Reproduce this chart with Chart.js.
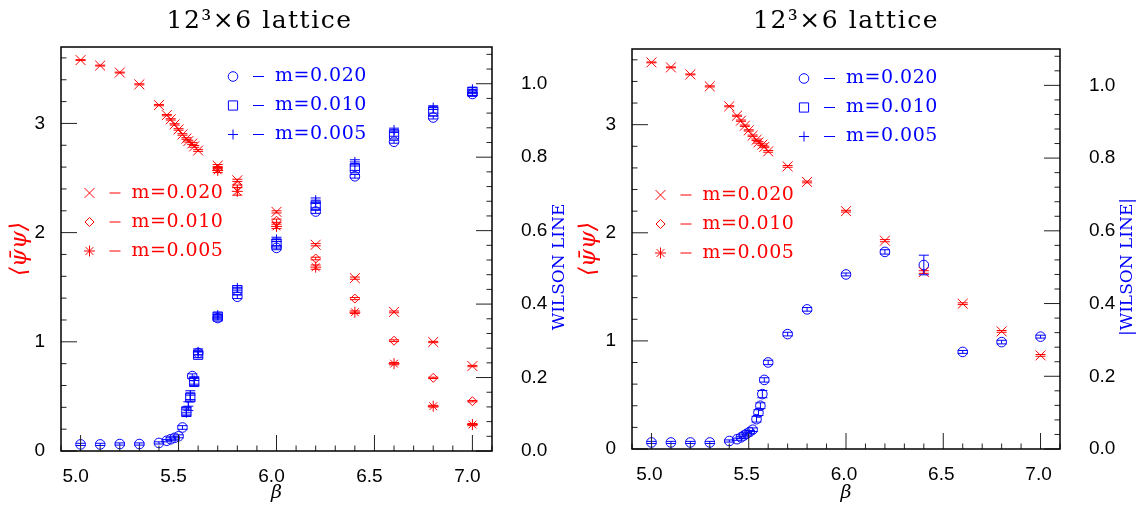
<!DOCTYPE html>
<html>
<head>
<meta charset="utf-8">
<script src="https://cdn.jsdelivr.net/npm/chart.js"></script>
<style>
  html, body { margin: 0; padding: 0; background: #fff; }
  .panel { position: absolute; top: 0; width: 569px; height: 515px; }
</style>
</head>
<body>
<div class="panel" style="left:0"><canvas id="leftChart"></canvas></div>
<div class="panel" style="left:569px"><canvas id="rightChart"></canvas></div>
<script>
'use strict';

var red = '#ff0000';
var blue = '#0000ff';

var massLabels = ['m=0.020', 'm=0.010', 'm=0.005'];
var redStyles = ['crossRot', 'rectRot', 'star'];
var blueStyles = ['circle', 'rect', 'cross'];
var redRadii = [7, 4.5, 5.5];
var blueRadii = [4.8, 6.5, 5];

// tick labels
var betaTicks = [5.0, 5.5, 6.0, 6.5, 7.0];
var pbpTicks = [0, 1, 2, 3];
var wilsonTicks = [0, 0.2, 0.4, 0.6, 0.8, 1.0];

// left panel : <psibar psi> (red)
var betaL = [5.0, 5.1, 5.2, 5.3, 5.4, 5.44, 5.46, 5.48, 5.5, 5.52, 5.54, 5.55, 5.57, 5.58, 5.6, 5.7, 5.8, 6.0, 6.2, 6.4, 6.6, 6.8, 7.0];
var pbpL020 = [3.58, 3.53, 3.466, 3.358, 3.168, 3.076, 3.037, 2.991, 2.945, 2.899, 2.862, 2.838, 2.816, 2.79, 2.752, 2.614, 2.479, 2.19, 1.889, 1.583, 1.274, 0.998, 0.778];
var pbpErrL020 = [0.004, 0.004, 0.004, 0.005, 0.006, 0.006, 0.006, 0.006, 0.007, 0.007, 0.007, 0.008, 0.008, 0.008, 0.008, 0.01, 0.01, 0.01, 0.01, 0.01, 0.008, 0.006, 0.006];
var betaHigh = [5.7, 5.8, 6.0, 6.2, 6.4, 6.6, 6.8, 7.0];
var pbpL010 = [2.584, 2.424, 2.109, 1.763, 1.396, 1.01, 0.67, 0.456];
var pbpErrL010 = [0.012, 0.012, 0.015, 0.012, 0.01, 0.008, 0.006, 0.006];
var pbpL005 = [2.57, 2.378, 2.057, 1.684, 1.271, 0.80, 0.41, 0.242];
var pbpErrL005 = [0.02, 0.035, 0.02, 0.02, 0.012, 0.01, 0.008, 0.01];

// left panel : Wilson line (blue)
var wlBetaL020 = [5.0, 5.1, 5.2, 5.3, 5.4, 5.44, 5.46, 5.48, 5.5, 5.52, 5.57, 5.6, 5.7, 5.8, 6.0, 6.2, 6.4, 6.6, 6.8, 7.0];
var wlL020 = [0.018, 0.018, 0.019, 0.019, 0.022, 0.028, 0.032, 0.036, 0.04, 0.064, 0.204, 0.267, 0.362, 0.42, 0.553, 0.652, 0.748, 0.842, 0.908, 0.972];
var wlErrL020 = [0.003, 0.003, 0.003, 0.003, 0.003, 0.003, 0.004, 0.004, 0.004, 0.005, 0.006, 0.005, 0.005, 0.005, 0.005, 0.005, 0.005, 0.004, 0.004, 0.004];
var wlBetaL010 = [5.54, 5.56, 5.58, 5.6, 5.7, 5.8, 6.0, 6.2, 6.4, 6.6, 6.8, 7.0];
var wlL010 = [0.108, 0.146, 0.188, 0.262, 0.366, 0.438, 0.565, 0.668, 0.77, 0.862, 0.925, 0.978];
var wlErrL010 = [0.01, 0.01, 0.01, 0.008, 0.006, 0.006, 0.006, 0.006, 0.006, 0.005, 0.005, 0.005];
var wlBetaL005 = [5.54, 5.55, 5.56, 5.58, 5.6, 5.7, 5.8, 6.0, 6.2, 6.4, 6.6, 6.8, 7.0];
var wlL005 = [0.104, 0.122, 0.152, 0.192, 0.27, 0.37, 0.444, 0.576, 0.683, 0.787, 0.874, 0.935, 0.985];
var wlErrL005 = [0.01, 0.012, 0.012, 0.01, 0.008, 0.006, 0.006, 0.006, 0.006, 0.006, 0.005, 0.005, 0.005];

// right panel
var betaR = [5.0, 5.1, 5.2, 5.3, 5.4, 5.44, 5.46, 5.48, 5.5, 5.52, 5.54, 5.55, 5.57, 5.58, 5.6, 5.7, 5.8, 6.0, 6.2, 6.4, 6.6, 6.8, 7.0];
var pbpR = [3.576, 3.53, 3.465, 3.354, 3.17, 3.083, 3.037, 2.99, 2.947, 2.898, 2.86, 2.836, 2.815, 2.794, 2.753, 2.614, 2.47, 2.2, 1.927, 1.637, 1.344, 1.088, 0.866];
var pbpErrR = [0.004, 0.004, 0.004, 0.005, 0.005, 0.005, 0.006, 0.006, 0.006, 0.006, 0.007, 0.007, 0.007, 0.007, 0.008, 0.008, 0.008, 0.008, 0.01, 0.012, 0.008, 0.008, 0.008];
var wlBetaR = [5.0, 5.1, 5.2, 5.3, 5.4, 5.44, 5.46, 5.475, 5.49, 5.505, 5.52, 5.54, 5.55, 5.56, 5.57, 5.58, 5.6, 5.7, 5.8, 6.0, 6.2, 6.4, 6.6, 6.8, 7.0];
var wlR = [0.018, 0.018, 0.018, 0.018, 0.022, 0.027, 0.032, 0.037, 0.042, 0.047, 0.053, 0.082, 0.1, 0.119, 0.151, 0.19, 0.238, 0.316, 0.384, 0.48, 0.542, 0.506, 0.267, 0.294, 0.309];
var wlErrR = [0.003, 0.003, 0.003, 0.003, 0.003, 0.003, 0.003, 0.004, 0.004, 0.004, 0.005, 0.008, 0.008, 0.008, 0.01, 0.006, 0.006, 0.005, 0.005, 0.004, 0.006, 0.027, 0.004, 0.005, 0.004];

var tickFont = { family: 'Liberation Sans', size: 19 };

function pts(xs, ys) {
    return xs.map(function (x, i) { return { x: x, y: ys[i] }; });
}

function series(label, xs, ys, errs, color, style, radius, axis) {
    return {
        label: label,
        data: pts(xs, ys),
        err: errs,
        borderColor: color,
        backgroundColor: 'rgba(0,0,0,0)',
        pointStyle: style,
        pointRadius: radius,
        pointBorderWidth: 1,
        showLine: false,
        yAxisID: axis
    };
}

function tickRun(scale, minor, major, draw) {
    var k0 = Math.ceil(scale.min / minor - 1e-6);
    var k1 = Math.floor(scale.max / minor + 1e-6);
    for (var k = k0; k <= k1; k++) {
        var v = k * minor;
        var isMajor = Math.abs(v / major - Math.round(v / major)) < 1e-6;
        draw(scale.getPixelForValue(v), isMajor ? 16 : 5.5);
    }
}

// frame with inward major / minor ticks
var frameTicks = {
    id: 'frameTicks',
    afterDraw: function (chart) {
        var ctx = chart.ctx, a = chart.chartArea, s = chart.scales;
        ctx.save();
        ctx.strokeStyle = '#222';
        ctx.lineWidth = 1;
        ctx.beginPath();
        tickRun(s.x, 0.1, 0.5, function (p, len) { ctx.moveTo(p, a.bottom); ctx.lineTo(p, a.bottom - len); });
        tickRun(s.yL, 0.2, 1, function (p, len) { ctx.moveTo(a.left, p); ctx.lineTo(a.left + len, p); });
        tickRun(s.yR, 0.04, 0.2, function (p, len) { ctx.moveTo(a.right, p); ctx.lineTo(a.right - len, p); });
        ctx.stroke();
        ctx.strokeStyle = '#000';
        ctx.lineWidth = 1.5;
        ctx.strokeRect(a.left, a.top, a.right - a.left, a.bottom - a.top);
        ctx.restore();
    }
};

var errorBars = {
    id: 'errorBars',
    afterDatasetsDraw: function (chart) {
        var ctx = chart.ctx;
        ctx.save();
        ctx.lineWidth = 1;
        chart.data.datasets.forEach(function (ds, i) {
            if (!ds.err) return;
            var meta = chart.getDatasetMeta(i);
            var ys = chart.scales[ds.yAxisID];
            ctx.strokeStyle = ds.borderColor;
            ctx.beginPath();
            meta.data.forEach(function (pt, j) {
                var v = ds.data[j].y, e = ds.err[j];
                var top = ys.getPixelForValue(v + e), bot = ys.getPixelForValue(v - e);
                ctx.moveTo(pt.x, top); ctx.lineTo(pt.x, bot);
                ctx.moveTo(pt.x - 5, top); ctx.lineTo(pt.x + 5, top);
                ctx.moveTo(pt.x - 5, bot); ctx.lineTo(pt.x + 5, bot);
            });
            ctx.stroke();
        });
        ctx.restore();
    }
};

function legendBlock(ctx, x, y, color, styles, radii) {
    ctx.strokeStyle = color;
    ctx.lineWidth = 1;
    massLabels.forEach(function (txt, i) {
        var yy = y + i * 29;
        ctx.fillStyle = 'rgba(0,0,0,0)';
        Chart.helpers.drawPoint(ctx, { pointStyle: styles[i], radius: radii[i], borderWidth: 1, rotation: 0 }, x, yy);
        ctx.beginPath();
        ctx.moveTo(x + 20, yy); ctx.lineTo(x + 31, yy);
        ctx.stroke();
        ctx.fillStyle = color;
        ctx.fillText(txt, x + 42, yy);
    });
}

// title, right axis title and the two mass legends
var panelText = {
    id: 'panelText',
    afterDraw: function (chart, args, opts) {
        var ctx = chart.ctx, a = chart.chartArea;
        ctx.save();
        ctx.fillStyle = '#000';
        ctx.font = '25px "DejaVu Serif"';
        ctx.letterSpacing = '1.5px';
        ctx.textAlign = 'center';
        ctx.textBaseline = 'alphabetic';
        ctx.fillText(opts.title, (a.left + a.right) / 2 + opts.titleShift, 28);

        ctx.save();
        ctx.letterSpacing = '0px';
        ctx.translate(a.right + 68, (a.top + a.bottom) / 2 + 18);
        ctx.rotate(-Math.PI / 2);
        ctx.fillStyle = blue;
        ctx.font = '17px "DejaVu Serif"';
        ctx.textBaseline = 'middle';
        ctx.fillText(opts.rightTitle, 0, 0);
        ctx.restore();

        ctx.font = '19px "DejaVu Serif"';
        ctx.letterSpacing = '0.5px';
        ctx.textAlign = 'left';
        ctx.textBaseline = 'middle';
        legendBlock(ctx, a.left + 172, a.top + 29.5, blue, blueStyles, blueRadii);
        legendBlock(ctx, a.left + 28.5, a.top + 146, red, redStyles, redRadii);
        ctx.restore();
    }
};

function tickSetter(values) {
    return function (scale) {
        scale.ticks = values.map(function (v) { return { value: v }; });
    };
}

function makePanel(id, datasets, box, panel) {
    return new Chart(document.getElementById(id), {
        type: 'scatter',
        data: { datasets: datasets },
        plugins: [errorBars, frameTicks, panelText],
        options: {
            responsive: true,
            maintainAspectRatio: false,
            animation: false,
            events: [],
            layout: { padding: { top: box.top, left: 0, right: 0, bottom: 0 } },
            plugins: {
                legend: { display: false },
                tooltip: { enabled: false },
                panelText: panel
            },
            scales: {
                x: {
                    type: 'linear',
                    position: 'bottom',
                    min: 4.9,
                    max: 7.1,
                    grid: { display: false },
                    border: { display: false },
                    afterBuildTicks: tickSetter(betaTicks),
                    afterFit: function (scale) { scale.height = box.bottom; },
                    ticks: {
                        font: tickFont, color: '#000', padding: 6, labelOffset: box.labelShift,
                        maxRotation: 0, autoSkip: false,
                        callback: function (v) { return Number(v).toFixed(1); }
                    },
                    title: {
                        display: true, text: 'β', color: '#000',
                        font: { family: 'DejaVu Serif', size: 19, style: 'italic' },
                        padding: { top: 0, bottom: 11 }
                    }
                },
                yL: {
                    type: 'linear',
                    position: 'left',
                    min: 0,
                    max: 3.7,
                    grid: { display: false },
                    border: { display: false },
                    afterBuildTicks: tickSetter(pbpTicks),
                    afterFit: function (scale) { scale.width = box.left; },
                    ticks: {
                        font: tickFont, color: '#000', padding: 8, autoSkip: false,
                        callback: function (v) { return String(v); }
                    },
                    title: {
                        display: true, text: '\u27E8\u03C8\u0304\u03C8\u27E9', color: red,
                        font: { family: 'DejaVu Serif', size: 23, style: 'italic' },
                        padding: { top: 6, bottom: 0 }
                    }
                },
                yR: {
                    type: 'linear',
                    position: 'right',
                    min: 0,
                    max: 1.1,
                    grid: { display: false },
                    border: { display: false },
                    afterBuildTicks: tickSetter(wilsonTicks),
                    afterFit: function (scale) { scale.width = box.right; },
                    ticks: {
                        font: tickFont, color: '#000', padding: 21, autoSkip: false,
                        callback: function (v) { return Number(v).toFixed(1); }
                    }
                }
            }
        }
    });
}

makePanel('leftChart', [
    series('pbp m=0.020', betaL, pbpL020, pbpErrL020, red, 'crossRot', 7, 'yL'),
    series('pbp m=0.010', betaHigh, pbpL010, pbpErrL010, red, 'rectRot', 4.5, 'yL'),
    series('pbp m=0.005', betaHigh, pbpL005, pbpErrL005, red, 'star', 5.5, 'yL'),
    series('wl m=0.020', wlBetaL020, wlL020, wlErrL020, blue, 'circle', 4.8, 'yR'),
    series('wl m=0.010', wlBetaL010, wlL010, wlErrL010, blue, 'rect', 6.5, 'yR'),
    series('wl m=0.005', wlBetaL005, wlL005, wlErrL005, blue, 'cross', 5, 'yR')
], { top: 47, left: 61, right: 77, bottom: 64, labelShift: -5 },
   { title: '12\u00B3\u00D76 lattice', titleShift: -17, rightTitle: 'WILSON LINE' });

makePanel('rightChart', [
    series('pbp m=0.020', betaR, pbpR, pbpErrR, red, 'crossRot', 7, 'yL'),
    series('wl m=0.020', wlBetaR, wlR, wlErrR, blue, 'circle', 4.8, 'yR')
], { top: 49, left: 63, right: 78, bottom: 66, labelShift: -2 },
   { title: '12\u00B3\u00D76 lattice', titleShift: 0, rightTitle: '|WILSON LINE|' });
</script>
</body>
</html>
